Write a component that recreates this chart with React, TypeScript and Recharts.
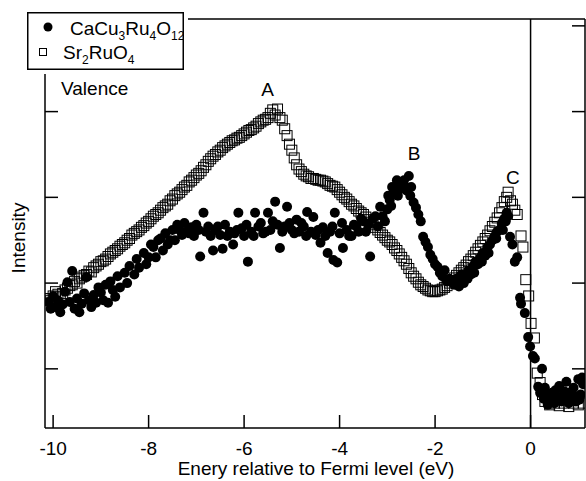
import { ScatterChart, Scatter, XAxis, YAxis, ReferenceLine, ReferenceDot } from 'recharts';

const font = '"Liberation Sans", Arial, Helvetica, sans-serif';

const xTicks = [-10, -8, -6, -4, -2, 0];
const yTicks = [1, 2, 3, 4, 5];

// CaCu3Ru4O12 (filled circles), [energy, intensity]
const caCu3Ru4O12: [number, number][] = [
  [-10.1, 1.78], [-10.05, 1.7], [-10.0, 1.85], [-9.95, 1.72], [-9.9, 1.8], [-9.85, 1.66],
  [-9.8, 1.75], [-9.75, 1.9], [-9.7, 2.01], [-9.65, 1.78], [-9.6, 2.14], [-9.55, 1.7],
  [-9.5, 1.82], [-9.45, 1.66], [-9.4, 1.76], [-9.35, 1.88], [-9.3, 2.07], [-9.25, 1.8],
  [-9.2, 1.72], [-9.15, 1.86], [-9.1, 1.77], [-9.05, 1.95], [-9.0, 1.89], [-8.95, 1.8],
  [-8.9, 1.98], [-8.85, 1.77], [-8.8, 2.02], [-8.75, 1.92], [-8.7, 1.84], [-8.65, 2.08],
  [-8.6, 1.95], [-8.5, 2.12], [-8.45, 2.0], [-8.4, 2.2], [-8.3, 2.1], [-8.25, 2.28],
  [-8.2, 2.18], [-8.1, 2.35], [-8.05, 2.22], [-8.0, 2.3], [-7.95, 2.45], [-7.9, 2.42],
  [-7.85, 2.3], [-7.8, 2.5], [-7.75, 2.52], [-7.7, 2.38], [-7.65, 2.58], [-7.6, 2.45],
  [-7.55, 2.5], [-7.5, 2.62], [-7.45, 2.5], [-7.4, 2.68], [-7.35, 2.62], [-7.3, 2.56],
  [-7.25, 2.7], [-7.2, 2.6], [-7.15, 2.58], [-7.1, 2.65], [-7.05, 2.55], [-7.0, 2.68],
  [-6.95, 2.62], [-6.92, 2.31], [-6.85, 2.82], [-6.8, 2.6], [-6.75, 2.66], [-6.7, 2.55],
  [-6.65, 2.38], [-6.6, 2.62], [-6.55, 2.66], [-6.5, 2.56], [-6.45, 2.4], [-6.4, 2.68],
  [-6.35, 2.55], [-6.3, 2.6], [-6.23, 2.45], [-6.2, 2.58], [-6.15, 2.62], [-6.12, 2.82],
  [-6.05, 2.64], [-6.0, 2.55], [-5.95, 2.68], [-5.92, 2.25], [-5.85, 2.6], [-5.8, 2.55],
  [-5.77, 2.82], [-5.7, 2.66], [-5.65, 2.7], [-5.6, 2.58], [-5.55, 2.6], [-5.5, 2.82],
  [-5.45, 2.62], [-5.4, 2.72], [-5.35, 2.95], [-5.3, 2.68], [-5.25, 2.41], [-5.2, 2.6],
  [-5.15, 2.66], [-5.1, 2.89], [-5.05, 2.7], [-5.0, 2.62], [-4.95, 2.58], [-4.9, 2.74],
  [-4.85, 2.6], [-4.8, 2.7], [-4.75, 2.66], [-4.7, 2.55], [-4.68, 2.83], [-4.6, 2.6],
  [-4.55, 2.77], [-4.5, 2.56], [-4.45, 2.62], [-4.4, 2.47], [-4.35, 2.65], [-4.3, 2.55],
  [-4.25, 2.35], [-4.2, 2.6], [-4.15, 2.66], [-4.13, 2.27], [-4.1, 2.82], [-4.05, 2.24],
  [-4.0, 2.58], [-3.95, 2.7], [-3.93, 2.41], [-3.85, 2.62], [-3.8, 2.55], [-3.75, 2.55],
  [-3.7, 2.68], [-3.65, 2.66], [-3.6, 2.6], [-3.55, 2.75], [-3.5, 2.72], [-3.45, 2.6],
  [-3.4, 2.68], [-3.36, 2.31], [-3.3, 2.75], [-3.25, 2.78], [-3.2, 2.66], [-3.15, 2.89],
  [-3.1, 2.78], [-3.05, 2.72], [-3.0, 2.86], [-2.98, 3.02], [-2.95, 2.97], [-2.92, 2.9],
  [-2.9, 3.12], [-2.85, 3.05], [-2.8, 3.2], [-2.78, 3.02], [-2.75, 3.1], [-2.7, 3.15],
  [-2.65, 3.2], [-2.62, 3.12], [-2.6, 3.08], [-2.55, 3.25], [-2.52, 3.02], [-2.5, 3.12],
  [-2.45, 2.94], [-2.4, 2.88], [-2.35, 2.8], [-2.3, 2.72], [-2.25, 2.54], [-2.2, 2.48],
  [-2.15, 2.42], [-2.1, 2.33], [-2.05, 2.28], [-2.0, 2.22], [-1.95, 2.19], [-1.9, 2.12],
  [-1.85, 2.08], [-1.8, 2.15], [-1.75, 2.02], [-1.7, 2.05], [-1.6, 1.98], [-1.55, 2.05],
  [-1.5, 1.96], [-1.45, 2.1], [-1.4, 2.0], [-1.35, 2.08], [-1.32, 2.05], [-1.3, 2.15],
  [-1.25, 2.1], [-1.2, 2.2], [-1.18, 2.12], [-1.15, 2.25], [-1.1, 2.22], [-1.05, 2.3],
  [-1.02, 2.25], [-1.0, 2.35], [-0.95, 2.32], [-0.9, 2.42], [-0.88, 2.35], [-0.85, 2.45],
  [-0.8, 2.5], [-0.75, 2.55], [-0.72, 2.52], [-0.7, 2.6], [-0.65, 2.62], [-0.6, 2.7],
  [-0.58, 2.62], [-0.55, 2.75], [-0.52, 2.72], [-0.5, 2.82], [-0.47, 2.78], [-0.43, 2.54],
  [-0.38, 2.45], [-0.33, 2.25], [-0.28, 2.3], [-0.22, 1.83], [-0.2, 1.76], [-0.12, 1.65],
  [-0.05, 1.37], [-0.01, 1.26], [0.05, 1.15], [0.09, 1.12], [0.16, 0.79], [0.2, 0.72],
  [0.24, 1.0], [0.28, 0.65], [0.3, 0.78], [0.32, 0.7], [0.36, 0.58], [0.4, 0.63],
  [0.42, 0.7], [0.45, 0.72], [0.5, 0.6], [0.52, 0.75], [0.55, 0.68], [0.6, 0.8],
  [0.62, 0.66], [0.65, 0.62], [0.7, 0.74], [0.72, 0.64], [0.75, 0.85], [0.8, 0.6],
  [0.82, 0.72], [0.85, 0.7], [0.9, 0.78], [0.92, 0.68], [0.95, 0.62], [1.0, 0.88],
  [1.02, 0.64], [1.05, 0.7], [1.08, 0.9], [1.1, 0.82],
];

// Sr2RuO4 (open squares), [energy, intensity]
const sr2RuO4: [number, number][] = [
  [-10.1, 1.82], [-10.05, 1.8], [-10.0, 1.85], [-9.95, 1.9], [-9.9, 1.87], [-9.85, 1.84],
  [-9.8, 1.88], [-9.75, 1.92], [-9.7, 1.94], [-9.65, 1.97], [-9.6, 1.98], [-9.55, 2.02],
  [-9.5, 2.0], [-9.45, 2.05], [-9.4, 2.07], [-9.35, 2.09], [-9.3, 2.1], [-9.25, 2.14],
  [-9.2, 2.13], [-9.15, 2.18], [-9.1, 2.2], [-9.05, 2.22], [-9.0, 2.25], [-8.95, 2.26],
  [-8.9, 2.28], [-8.85, 2.31], [-8.8, 2.34], [-8.75, 2.36], [-8.7, 2.38], [-8.65, 2.4],
  [-8.6, 2.43], [-8.55, 2.45], [-8.5, 2.47], [-8.45, 2.5], [-8.4, 2.52], [-8.35, 2.56],
  [-8.3, 2.58], [-8.25, 2.6], [-8.2, 2.62], [-8.15, 2.65], [-8.1, 2.67], [-8.05, 2.7],
  [-8.0, 2.72], [-7.95, 2.75], [-7.9, 2.78], [-7.85, 2.8], [-7.8, 2.82], [-7.75, 2.85],
  [-7.7, 2.88], [-7.65, 2.9], [-7.6, 2.92], [-7.55, 2.96], [-7.5, 2.98], [-7.45, 3.02],
  [-7.4, 3.04], [-7.35, 3.06], [-7.3, 3.09], [-7.25, 3.12], [-7.2, 3.14], [-7.15, 3.18],
  [-7.1, 3.2], [-7.05, 3.23], [-7.0, 3.26], [-6.95, 3.28], [-6.9, 3.31], [-6.85, 3.35],
  [-6.8, 3.38], [-6.75, 3.42], [-6.7, 3.45], [-6.65, 3.48], [-6.6, 3.5], [-6.55, 3.53],
  [-6.5, 3.55], [-6.45, 3.58], [-6.4, 3.6], [-6.35, 3.62], [-6.3, 3.64], [-6.25, 3.66],
  [-6.2, 3.67], [-6.15, 3.69], [-6.1, 3.7], [-6.05, 3.72], [-6.0, 3.74], [-5.95, 3.76],
  [-5.9, 3.78], [-5.85, 3.79], [-5.8, 3.81], [-5.75, 3.83], [-5.7, 3.86], [-5.65, 3.88],
  [-5.6, 3.9], [-5.55, 3.91], [-5.5, 3.93], [-5.45, 3.98], [-5.4, 4.02], [-5.35, 3.96],
  [-5.3, 4.03], [-5.25, 3.93], [-5.2, 3.9], [-5.15, 3.8], [-5.1, 3.72], [-5.05, 3.62],
  [-5.0, 3.55], [-4.95, 3.46], [-4.9, 3.38], [-4.85, 3.33], [-4.8, 3.3], [-4.75, 3.27],
  [-4.7, 3.25], [-4.65, 3.24], [-4.6, 3.22], [-4.55, 3.22], [-4.5, 3.21], [-4.45, 3.2],
  [-4.4, 3.2], [-4.35, 3.19], [-4.3, 3.18], [-4.25, 3.16], [-4.2, 3.14], [-4.15, 3.13],
  [-4.1, 3.12], [-4.05, 3.09], [-4.0, 3.06], [-3.95, 3.03], [-3.9, 3.0], [-3.85, 2.98],
  [-3.8, 2.95], [-3.75, 2.92], [-3.7, 2.9], [-3.65, 2.87], [-3.6, 2.84], [-3.55, 2.82],
  [-3.5, 2.8], [-3.45, 2.77], [-3.4, 2.74], [-3.35, 2.71], [-3.3, 2.68], [-3.25, 2.65],
  [-3.2, 2.62], [-3.15, 2.59], [-3.1, 2.56], [-3.05, 2.53], [-3.0, 2.5], [-2.95, 2.48],
  [-2.9, 2.45], [-2.85, 2.41], [-2.8, 2.38], [-2.75, 2.34], [-2.7, 2.3], [-2.65, 2.26],
  [-2.6, 2.22], [-2.55, 2.17], [-2.5, 2.12], [-2.45, 2.08], [-2.4, 2.05], [-2.35, 2.01],
  [-2.3, 1.98], [-2.25, 1.96], [-2.2, 1.94], [-2.15, 1.92], [-2.1, 1.91], [-2.05, 1.9],
  [-2.0, 1.9], [-1.95, 1.91], [-1.9, 1.92], [-1.85, 1.93], [-1.8, 1.95], [-1.75, 1.97],
  [-1.7, 2.0], [-1.65, 2.03], [-1.6, 2.06], [-1.55, 2.09], [-1.5, 2.12], [-1.45, 2.15],
  [-1.4, 2.18], [-1.35, 2.21], [-1.3, 2.25], [-1.25, 2.28], [-1.2, 2.32], [-1.15, 2.36],
  [-1.1, 2.4], [-1.05, 2.44], [-1.0, 2.48], [-0.95, 2.52], [-0.9, 2.56], [-0.85, 2.61],
  [-0.8, 2.66], [-0.75, 2.71], [-0.7, 2.76], [-0.65, 2.82], [-0.6, 2.88], [-0.55, 2.95],
  [-0.5, 3.0], [-0.47, 3.06], [-0.42, 2.96], [-0.38, 2.92], [-0.33, 2.85], [-0.28, 2.8],
  [-0.2, 2.55], [-0.16, 2.42], [-0.1, 2.04], [-0.04, 1.85], [0.01, 1.53], [0.08, 1.36],
  [0.14, 0.95], [0.2, 0.84], [0.25, 0.7], [0.3, 0.62], [0.4, 0.58], [0.5, 0.6],
  [0.6, 0.57], [0.7, 0.6], [0.8, 0.56], [0.9, 0.6], [1.0, 0.58], [1.1, 0.6],
];

const annotations = [
  { text: 'Valence', x: -9.13, y: 4.27 },
  { text: 'A', x: -5.51, y: 4.26 },
  { text: 'B', x: -2.44, y: 3.52 },
  { text: 'C', x: -0.37, y: 3.23 },
];

const circleData = caCu3Ru4O12.map(([x, y]) => ({ x, y }));
const squareData = sr2RuO4.map(([x, y]) => ({ x, y }));

const FilledCircle = (p: any) => <circle cx={p.cx} cy={p.cy} r={5} fill="#000" />;
const OpenSquare = (p: any) => (
  <rect x={p.cx - 5} y={p.cy - 5} width={10} height={10} fill="none" stroke="#000" strokeWidth={1} />
);

const axisStroke = { stroke: '#000', strokeWidth: 1.5 };
const TICK = 13;

// inward ticks, drawn by hand so the labels stay outside
const BottomTick = ({ x, y, payload }: any) => (
  <g>
    <line x1={x} x2={x} y1={y} y2={y - TICK} stroke="#000" strokeWidth={1.5} />
    <text x={x} y={y + 27} textAnchor="middle" fontSize={19} fill="#000" fontFamily={font}>
      {payload.value}
    </text>
  </g>
);
const LeftTick = ({ x, y }: any) => <line x1={x} x2={x + TICK} y1={y} y2={y} stroke="#000" strokeWidth={1.5} />;
const RightTick = ({ x, y }: any) => <line x1={x} x2={x - TICK} y1={y} y2={y} stroke="#000" strokeWidth={1.5} />;

function Legend() {
  return (
    <div style={{ position: 'absolute', left: 23, top: 8, padding: 4, background: '#fff' }}>
      <svg width={157} height={58} style={{ display: 'block', fontFamily: font }}>
        <rect x={0.75} y={0.75} width={155.5} height={56.5} fill="#fff" stroke="#000" strokeWidth={1.5} />
        <circle cx={21} cy={15} r={4.5} fill="#000" />
        <text x={43} y={23} fontSize={19} fill="#000">
          CaCu<tspan fontSize={12} dy={5}>3</tspan>
          <tspan dy={-5}>Ru</tspan>
          <tspan fontSize={12} dy={5}>4</tspan>
          <tspan dy={-5}>O</tspan>
          <tspan fontSize={12} dy={5}>12</tspan>
        </text>
        <rect x={12.5} y={36.5} width={7} height={7} fill="none" stroke="#000" strokeWidth={1} />
        <text x={36} y={47} fontSize={19} fill="#000">
          Sr<tspan fontSize={12} dy={5}>2</tspan>
          <tspan dy={-5}>RuO</tspan>
          <tspan fontSize={12} dy={5}>4</tspan>
        </text>
      </svg>
    </div>
  );
}

export default function App() {
  return (
    <div style={{ position: 'absolute', left: 0, top: 0, width: 586, height: 481, background: '#fff', fontFamily: font }}>
      <ScatterChart width={586} height={481} margin={{ top: 18, right: 0, bottom: 23, left: 0 }}>
        <XAxis
          xAxisId="b"
          type="number"
          dataKey="x"
          domain={[-10.17, 1.14]}
          allowDataOverflow
          ticks={xTicks}
          interval={0}
          height={30}
          tickSize={0}
          tickMargin={0}
          axisLine={axisStroke}
          tickLine={false}
          tick={BottomTick}
          label={{
            content: () => (
              <text x={316} y={475} textAnchor="middle" fontSize={19} fill="#000" fontFamily={font}>
                Enery relative to Fermi level (eV)
              </text>
            ),
          }}
        />
        <XAxis
          xAxisId="t"
          orientation="top"
          type="number"
          domain={[-10.17, 1.14]}
          allowDataOverflow
          height={1}
          tick={false}
          tickLine={false}
          axisLine={axisStroke}
        />
        <YAxis
          yAxisId="l"
          type="number"
          dataKey="y"
          domain={[0.31, 5.08]}
          allowDataOverflow
          ticks={yTicks}
          interval={0}
          width={45}
          tickSize={0}
          tickMargin={0}
          tickLine={false}
          tick={LeftTick}
          axisLine={axisStroke}
          label={{
            content: () => (
              <text x={25} y={238} transform="rotate(-90 25 238)" textAnchor="middle" fontSize={19} fill="#000" fontFamily={font}>
                Intensity
              </text>
            ),
          }}
        />
        <YAxis
          yAxisId="r"
          orientation="right"
          type="number"
          domain={[0.31, 5.08]}
          allowDataOverflow
          ticks={yTicks}
          interval={0}
          width={1}
          tickSize={0}
          tickMargin={0}
          tickLine={false}
          tick={RightTick}
          axisLine={axisStroke}
        />
        <ReferenceLine xAxisId="b" yAxisId="l" x={0} stroke="#000" strokeWidth={1.5} />
        <Scatter
          xAxisId="b"
          yAxisId="l"
          data={squareData}
          shape={OpenSquare}
          isAnimationActive={false}
        />
        <Scatter
          xAxisId="b"
          yAxisId="l"
          data={circleData}
          shape={FilledCircle}
          isAnimationActive={false}
        />
        {annotations.map((a) => (
          <ReferenceDot
            key={a.text}
            xAxisId="b"
            yAxisId="l"
            x={a.x}
            y={a.y}
            r={0}
            stroke="none"
            fill="none"
            label={{ value: a.text, position: 'center', fill: '#000', fontSize: 19, fontFamily: font }}
          />
        ))}
      </ScatterChart>
      <Legend />
    </div>
  );
}
